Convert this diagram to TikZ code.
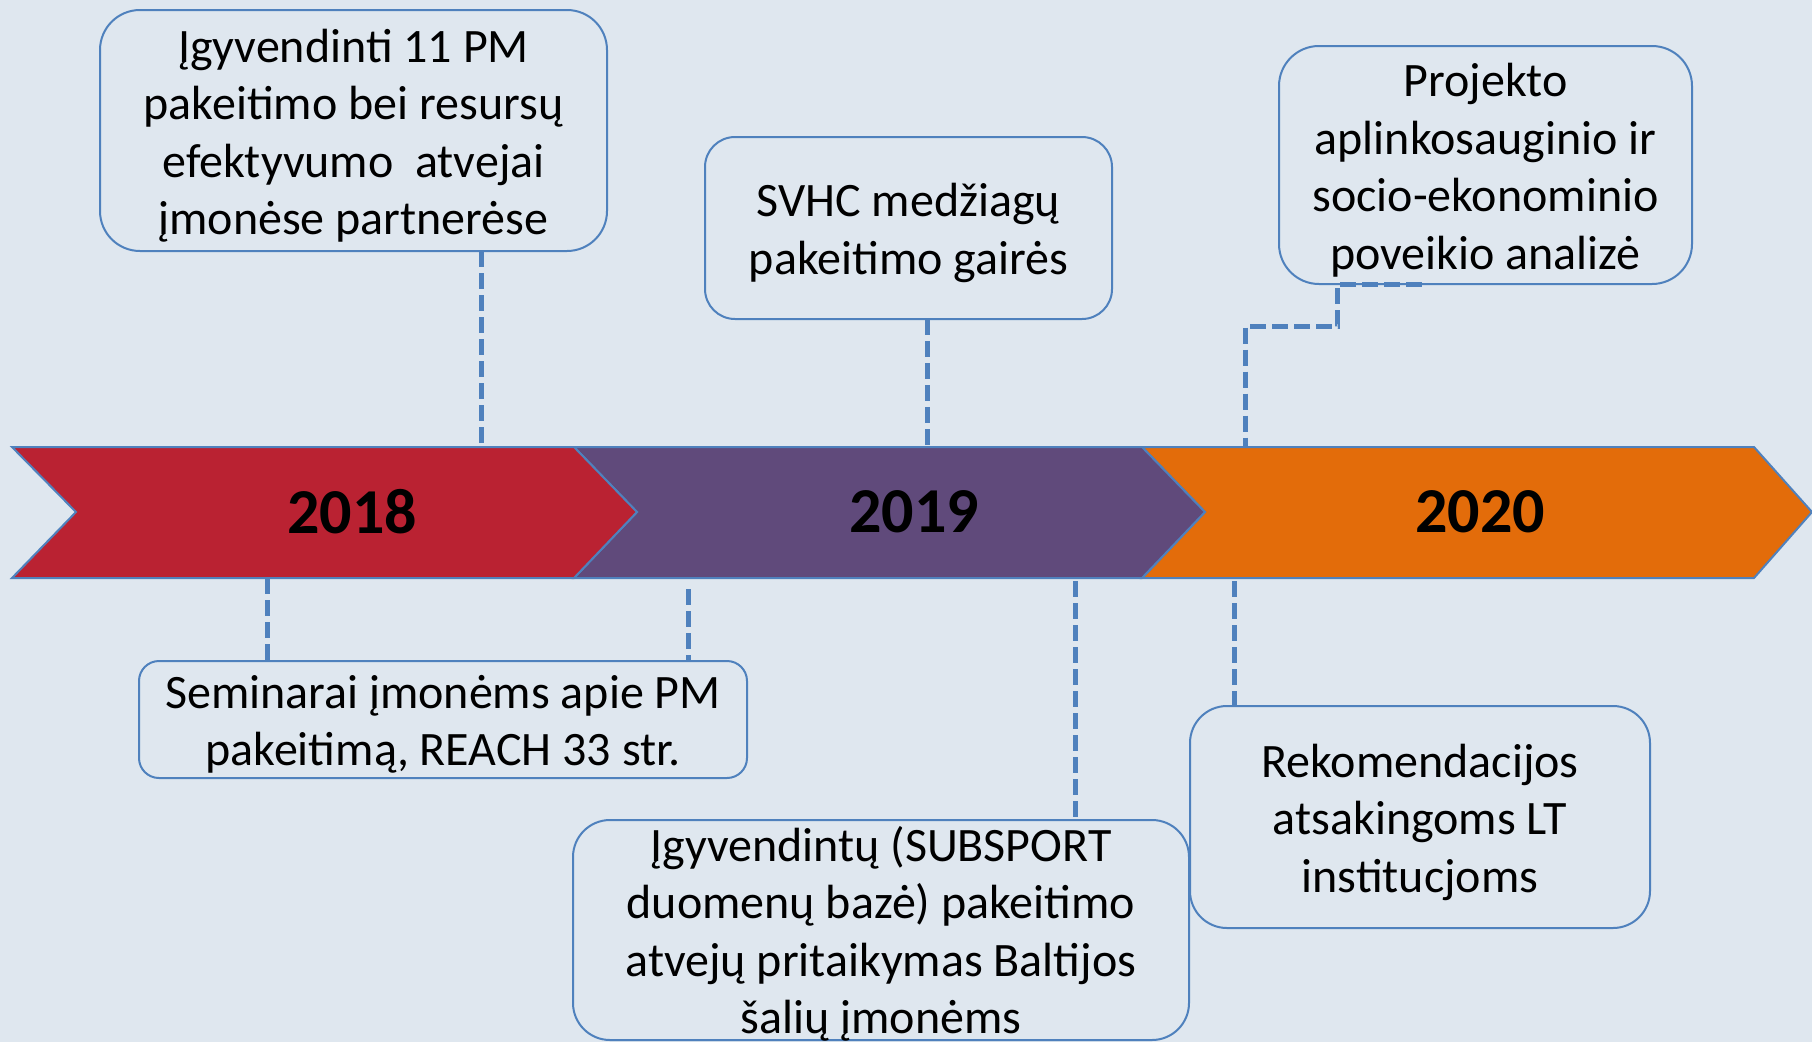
\documentclass[tikz,border=0pt]{standalone}
\usepackage{fontspec}
\setmainfont{Carlito}
\definecolor{bgblue}{HTML}{DFE7EF}
\definecolor{lineblue}{HTML}{4F81BD}
\definecolor{redyear}{HTML}{BA2232}
\definecolor{purpleyear}{HTML}{604A7B}
\definecolor{orangeyear}{HTML}{E36C0A}
\tikzset{
  infobox/.style={draw=lineblue, line width=2pt, inner sep=0pt, outer sep=0pt},
  boxtext/.style={align=center, inner sep=0pt, font=\fontsize{48}{57.5}\selectfont},
  yearband/.style={draw=lineblue, line width=2pt, line join=miter},
  yearlabel/.style={font=\fontsize{64}{70}\selectfont\bfseries},
  link/.style={draw=lineblue, line width=5pt, dash pattern=on 16pt off 6pt}
}
\begin{document}
\begin{tikzpicture}[x=1pt,y=-1pt]
  \fill[bgblue] (0,0) rectangle (1812,1042);
  \useasboundingbox (0,0) rectangle (1812,1042);
  % year chevrons
  \draw[yearband, fill=orangeyear] (1142,447) -- (1754,447) -- (1812,512) -- (1754,578) -- (1142,578) -- (1205,512) -- cycle;
  \draw[yearband, fill=purpleyear] (574,447) -- (1142,447) -- (1205,512) -- (1142,578) -- (574,578) -- (637,512) -- cycle;
  \draw[yearband, fill=redyear] (12,447) -- (574,447) -- (637,512) -- (574,578) -- (12,578) -- (76,512) -- cycle;
  \node[yearlabel] (y2018) at (352,512) {2018};
  \node[yearlabel] (y2019) at (914,512) {2019};
  \node[yearlabel] (y2020) at (1480,512) {2020};
  % boxes above
  \node[infobox, rounded corners=40pt, minimum width=507pt, minimum height=241pt] (box1) at (353.5,130.5) {};
  \node[infobox, rounded corners=30pt, minimum width=407pt, minimum height=182pt] (box2) at (908.5,228) {};
  \node[infobox, rounded corners=40pt, minimum width=413pt, minimum height=238pt] (box3) at (1485.5,165) {};
  % boxes below
  \node[infobox, rounded corners=20pt, minimum width=608pt, minimum height=117pt] (box4) at (443,719.5) {};
  \node[infobox, rounded corners=37pt, minimum width=616pt, minimum height=220pt] (box5) at (881,930) {};
  \node[infobox, rounded corners=37pt, minimum width=460pt, minimum height=222pt] (box6) at (1420,817) {};
  % texts
  \node[boxtext] (box1t) at ([yshift=-5pt]box1.center)
    {Įgyvendinti 11 PM\\pakeitimo bei resursų\\efektyvumo\ \ atvejai\\įmonėse partnerėse};
  \node[boxtext] (box2t) at ([yshift=-5pt]box2.center) {SVHC medžiagų\\pakeitimo gairės};
  \node[boxtext] (box3t) at ([yshift=-5pt]box3.center)
    {Projekto\\aplinkosauginio ir\\socio-ekonominio\\poveikio analizė};
  \node[boxtext] (box4t) at ([yshift=-5pt]box4.center) {Seminarai įmonėms apie PM\\pakeitimą, REACH 33 str.};
  \node[boxtext] (box5t) at ([yshift=-4pt]box5.center)
    {Įgyvendintų (SUBSPORT\\duomenų bazė) pakeitimo\\atvejų pritaikymas Baltijos\\šalių įmonėms};
  \node[boxtext] (box6t) at ([yshift=-5pt]box6.center) {Rekomendacijos\\atsakingoms LT\\institucjoms};
  % links to the band
  \coordinate (c1) at (481,447);
  \coordinate (c2) at (927,447);
  \coordinate (c3) at (1245,447);
  \coordinate (c4a) at (267,578);
  \coordinate (c4b) at (688,589);
  \coordinate (c5) at (1075,581);
  \coordinate (c6) at (1234,581);
  \draw[link] (box1.south -| c1) -- (c1);
  \draw[link] (box2.south -| c2) -- (c2);
  \draw[link] ([xshift=-64pt]box3.south) -- ++(-84,0) -- ++(0,42) -| (c3);
  \draw[link] (c4a) -- (box4.north -| c4a);
  \draw[link] (c4b) -- (box4.north -| c4b);
  \draw[link] (c5) -- (box5.north -| c5);
  \draw[link] (c6) -- (box6.north -| c6);
\end{tikzpicture}
\end{document}
